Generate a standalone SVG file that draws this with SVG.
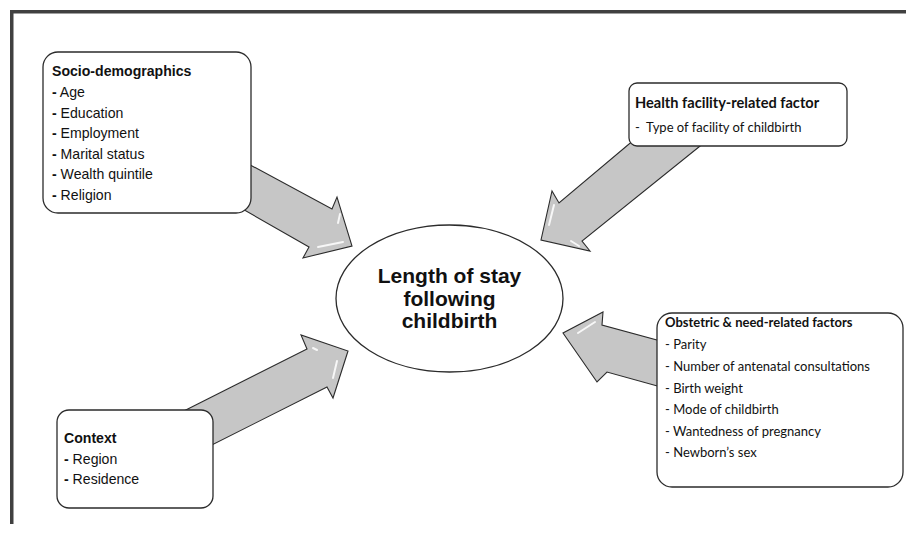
<svg xmlns="http://www.w3.org/2000/svg" width="906" height="533" viewBox="0 0 906 533">
<style>
.frame{fill:none;stroke:#404040;stroke-width:3.5}
.box{fill:#fff;stroke:#2b2b2b;stroke-width:1.3}
.arrow{fill:#c6c6c6;stroke:#2b2b2b;stroke-width:1.1;stroke-linejoin:miter}
.hl{fill:none;stroke:#fff;stroke-width:2;stroke-linecap:round;opacity:0.85}
.ell{fill:#fff;stroke:#2b2b2b;stroke-width:1.3}
.a{font-family:"Liberation Sans",Arial,sans-serif;font-size:14.1px;fill:#111}
.ab{font-weight:bold}
.c{font-family:Lato,"Open Sans",sans-serif;font-size:13px;fill:#111}
.cb{font-weight:bold}
.main{font-family:"Liberation Sans",Arial,sans-serif;font-size:21px;font-weight:bold;fill:#111;text-anchor:middle}
</style>
<path class="frame" d="M11.75 524 V11.75 H906"/>
<g id="connectors">
<g id="arrow-socio">
<polygon class="arrow" points="230,154 332,209 337,197 352,246 303,258 309,247 225,199"/>
<path class="hl" d="M340 214 L338 223 M318 247 L343 242"/>
</g>
<g id="arrow-health">
<polygon class="arrow" points="660,118 559,203 552,191 541,240 590,251 582,241 720,130"/>
<path class="hl" d="M554 205 L549 225 M571 241 L579 246"/>
</g>
<g id="arrow-context">
<polygon class="arrow" points="160,423 307,349 301,335 348,351 333,398 327,387 180,461"/>
<path class="hl" d="M313 348 L317 350 M337 361 L333 378"/>
</g>
<g id="arrow-obstetric">
<polygon class="arrow" points="690,349 602,325 603,312 563,333 597,382 607,372 690,395"/>
<path class="hl" d="M578 333 L595 322"/>
</g>
</g>
<g id="socio">
<rect class="box" x="43" y="52" width="208" height="161" rx="15"/>
<text class="a ab" x="52" y="76">Socio-demographics</text>
<text class="a" x="52" y="97"><tspan class="ab">-</tspan> Age</text>
<text class="a" x="52" y="117.5"><tspan class="ab">-</tspan> Education</text>
<text class="a" x="52" y="138"><tspan class="ab">-</tspan> Employment</text>
<text class="a" x="52" y="158.5"><tspan class="ab">-</tspan> Marital status</text>
<text class="a" x="52" y="179"><tspan class="ab">-</tspan> Wealth quintile</text>
<text class="a" x="52" y="199.5"><tspan class="ab">-</tspan> Religion</text>
</g>
<g id="health">
<rect class="box" x="629" y="83" width="218" height="63" rx="8"/>
<text class="c cb" x="635" y="108" style="font-size:14.6px">Health facility-related factor</text>
<text class="c" x="635" y="132" xml:space="preserve">-  Type of facility of childbirth</text>
</g>
<g id="obstetric">
<rect class="box" x="657" y="313" width="246" height="174" rx="15"/>
<text class="c cb" x="665" y="327">Obstetric &amp; need-related factors</text>
<text class="c" x="665" y="349">- Parity</text>
<text class="c" x="665" y="371">- Number of antenatal consultations</text>
<text class="c" x="665" y="393">- Birth weight</text>
<text class="c" x="665" y="414">- Mode of childbirth</text>
<text class="c" x="665" y="435.5">- Wantedness of pregnancy</text>
<text class="c" x="665" y="457">- Newborn’s sex</text>
</g>
<g id="context">
<rect class="box" x="57" y="410" width="156" height="98" rx="12"/>
<text class="a ab" x="64" y="443">Context</text>
<text class="a" x="64" y="463.5"><tspan class="ab">-</tspan> Region</text>
<text class="a" x="64" y="484"><tspan class="ab">-</tspan> Residence</text>
</g>
<g id="center">
<ellipse class="ell" cx="449.5" cy="298.5" rx="113.5" ry="73.5"/>
<text class="main" x="449.5" y="283">Length of stay</text>
<text class="main" x="449.5" y="305.5">following</text>
<text class="main" x="449.5" y="328">childbirth</text>
</g>
</svg>
